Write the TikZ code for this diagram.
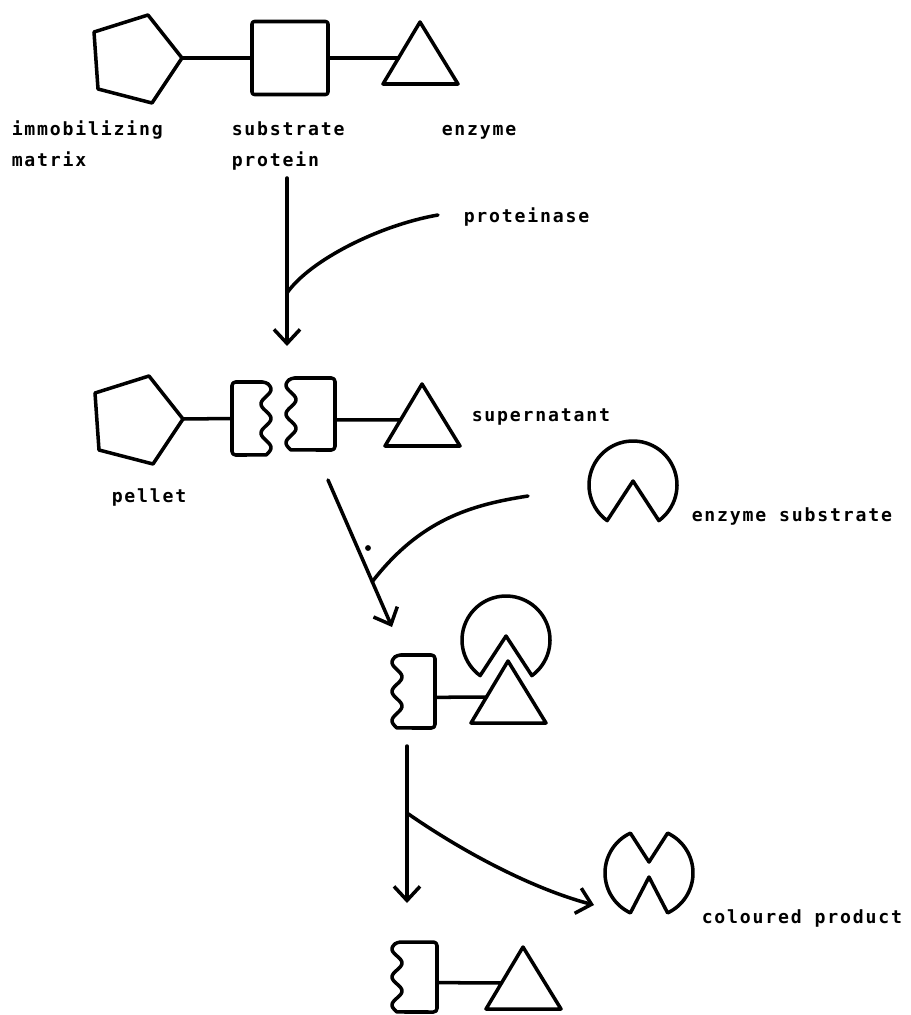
\documentclass[tikz,border=0pt]{standalone}
\usepackage{fontspec}
\newfontfamily\lblfont[LetterSpace=10]{DejaVu Sans Mono}
\usetikzlibrary{arrows.meta}

\tikzset{
    lbl/.style={font=\lblfont\bfseries\fontsize{15.5}{18}\selectfont, anchor=base west, inner sep=0pt},
    arrow/.style={-{Straight Barb[length=4.2mm, width=7.8mm]}},
    protbox/.style={draw, rounded corners=2pt, minimum width=2.28cm, minimum height=2.19cm, inner sep=0pt},
    pics/penta/.style={code={
        \draw (0,0) -- (-30,45) -- (-84,31) -- (-88,-26) -- (-34,-43) -- cycle;
        \coordinate (-tip) at (0,0);
    }},
    pics/tri/.style={code={
        \draw (0,0) -- (38,62) -- (-37,62) -- cycle;
        \coordinate (-w) at (-21.5,36);
    }},
    pics/pac/.style={code={
        \draw plot[domain=126:414, samples=60] ({44*cos(\x)},{44*sin(\x)}) -- (0,-4) -- cycle;
    }},
    pics/prod/.style={code={
        \draw plot[domain=245:115, samples=40] ({44*cos(\x)},{44*sin(\x)}) -- (0,4)
            -- plot[domain=65:-65, samples=40] ({44*cos(\x)},{44*sin(\x)}) -- (0,-11) -- cycle;
    }},
    % fragment, wavy edge on the left, origin top right
    pics/fragL/.style 2 args={code={
        \draw plot[domain=0:1, samples=50] ({-#1+4-5*sin(900*\x)},{#2*\x})
            [rounded corners=3pt] -- (0,#2) -- (0,0) -- cycle;
        \coordinate (-e) at (0,{0.58*#2});
    }},
    % fragment, wavy edge on the right, origin top left
    pics/fragR/.style 2 args={code={
        \draw plot[domain=0:1, samples=50] ({#1-4+5*sin(900*\x)},{#2*\x})
            [rounded corners=3pt] -- (0,#2) -- (0,0) -- cycle;
        \coordinate (-w) at (0,{#2/2});
    }}
}

\begin{document}
\begin{tikzpicture}[x=0.03cm, y=-0.03cm, line width=3pt, line join=round, line cap=round]
\useasboundingbox (0,0) rectangle (910,1015);

% intact complex
\pic (mat1) at (182,58) {penta};
\node[protbox] (sub1) at (290,58) {};
\pic (enz1) at (420,22) {tri};
\draw (mat1-tip) -- (sub1.west);
\draw (sub1.east) -- (enz1-w);

\node[lbl] (immob) at (10,136) {immobilizing};
\node[lbl] (matrix) at (10,167) {matrix};
\node[lbl] (subst) at (230,136) {substrate};
\node[lbl] (protein) at (230,167) {protein};
\node[lbl] (enzyme) at (440,136) {enzyme};

% proteinase
\coordinate (a1s) at (287,178);
\coordinate (a1e) at (287,346);
\coordinate (a1j) at (287,293);
\coordinate (a1f) at (438,215);
\draw[arrow] (a1s) -- (a1e);
\draw (a1f) .. controls (380,225) and (310,260) .. (a1j);
\node[lbl] (proteinase) at (462,222) {proteinase};

% cleaved complex
\pic (mat2) at (183,419) {penta};
\pic (fra) at (232,382) {fragR={38}{73}};
\pic (frb) at (335,378) {fragL={48}{72}};
\pic (enz2) at (422,384) {tri};
\draw (mat2-tip) -- (fra-w);
\draw (frb-e) -- (enz2-w);
\node[lbl] (supern) at (470,421) {supernatant};
\node[lbl] (pellet) at (110,502) {pellet};

% enzyme substrate
\coordinate (a2s) at (328,480);
\coordinate (a2e) at (392,627);
\coordinate (a2j) at (372,582);
\coordinate (a2f) at (528,496);
\draw[arrow] (a2s) -- (a2e);
\draw (a2f) .. controls (470,505) and (420,520) .. (a2j);
\fill (368,548) circle[radius=2.5pt];
\pic (esub1) at (633,485) {pac};
\node[lbl] (esubl) at (690,521) {enzyme substrate};

% fragment with bound substrate
\pic (frc) at (435,655) {fragL={42}{73}};
\pic (enz3) at (508,661) {tri};
\pic (esub2) at (506,640) {pac};
\draw (frc-e) -- (enz3-w);

% coloured product
\coordinate (a3s) at (407,746);
\coordinate (a3e) at (407,903);
\coordinate (a3j) at (407,813);
\coordinate (a3f) at (594,905);
\draw[arrow] (a3s) -- (a3e);
\draw[arrow] (a3j) .. controls (460,850) and (530,888) .. (a3f);
\pic (prod) at (649,873) {prod};
\node[lbl] (prodl) at (700,923) {coloured product};

% free fragment
\pic (frd) at (437,942) {fragL={44}{70}};
\pic (enz4) at (523,947) {tri};
\draw (frd-e) -- (enz4-w);

\end{tikzpicture}
\end{document}
